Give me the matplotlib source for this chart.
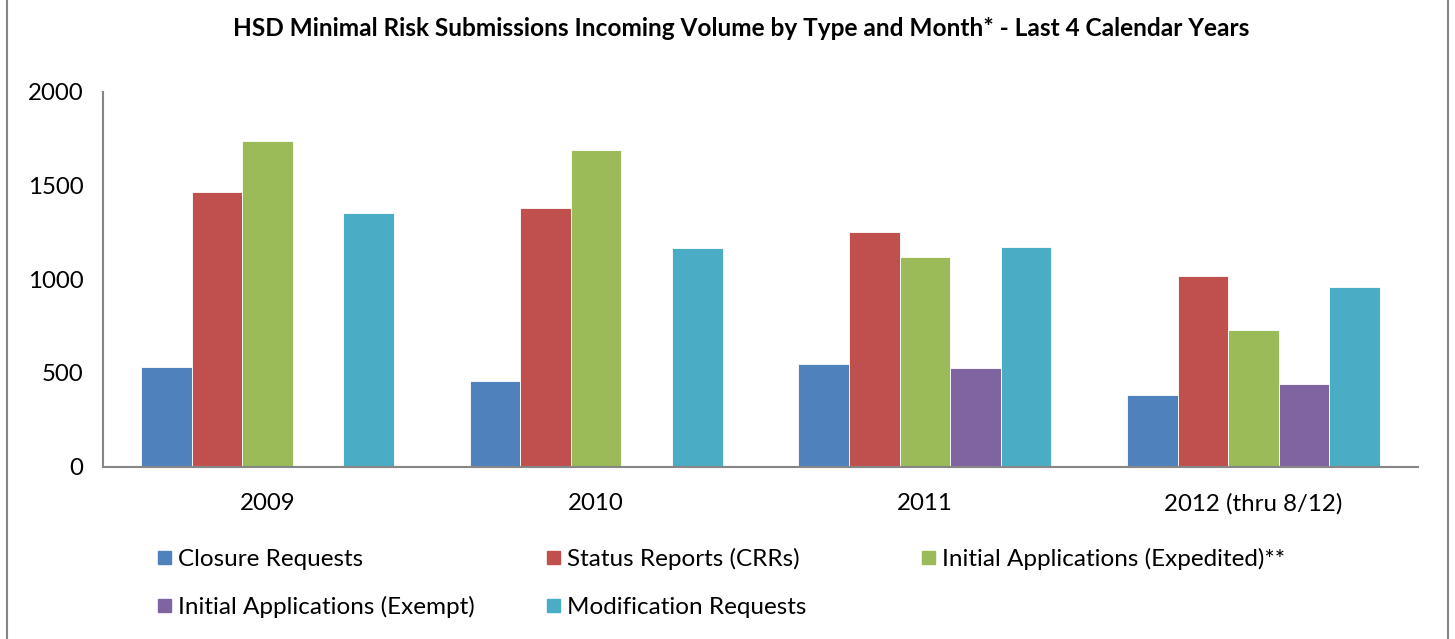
import matplotlib
matplotlib.use("Agg")
import matplotlib.pyplot as plt
import numpy as np
from matplotlib.patches import Rectangle

categories = ["2009", "2010", "2011", "2012 (thru 8/12)"]
series_names = ["Closure Requests", "Status Reports (CRRs)", "Initial Applications (Expedited)**",
                "Initial Applications (Exempt)", "Modification Requests"]
closure = [530, 455, 545, 380]
status = [1465, 1380, 1250, 1018]
expedited = [1738, 1690, 1117, 728]
exempt = [0, 0, 527, 438]
modification = [1356, 1166, 1173, 958]
yticks = [0, 500, 1000, 1500, 2000]
title = "HSD Minimal Risk Submissions Incoming Volume by Type and Month* - Last 4 Calendar Years"

colors = ["#4F81BD", "#C0504D", "#9BBB59", "#8064A2", "#4BACC6"]
FONT = ["Lato", "DejaVu Sans"]
plt.rcParams['font.family'] = FONT

W, H = 1455, 639
fig = plt.figure(figsize=(W / 100, H / 100), dpi=100)
ax = fig.add_axes([103 / W, 1 - 466.5 / H, (1418 - 103) / W, (466.5 - 92) / H])

data = [closure, status, expedited, exempt, modification]
x = np.arange(len(categories))
bw = 1 / (5 + 1.5)
for i, (vals, c) in enumerate(zip(data, colors)):
    ax.bar(x + (i - 2) * bw, vals, bw, color=c, edgecolor="white", linewidth=0.6, zorder=2)

ax.set_xlim(-0.5, len(categories) - 0.5)
ax.set_ylim(0, 2000)
ax.set_yticks(yticks)
ax.set_yticklabels([str(t) for t in yticks])
ax.set_xticks(x)
ax.set_xticklabels(categories)
ax.tick_params(axis="both", length=0, labelsize=17.3, colors="black")
ax.tick_params(axis="y", pad=14)
ax.tick_params(axis="x", pad=19)
for s in ["top", "right"]:
    ax.spines[s].set_visible(False)
for s in ["left", "bottom"]:
    ax.spines[s].set_color("#868686")
    ax.spines[s].set_linewidth(1.5)

fig.text(741 / W, 1 - 28 / H, title, ha="center", va="center", fontsize=17.6, fontweight="bold")

# legend
pos = [(158, 557), (547, 557), (922, 557), (158, 605), (547, 605)]
for (px, py), name, c in zip(pos, series_names, colors):
    s = 13
    fig.patches.append(Rectangle((px / W, 1 - (py + s / 2) / H), s / W, s / H,
                                 transform=fig.transFigure, color=c, figure=fig))
    fig.text((px + 20) / W, 1 - (py + 2) / H, name, ha="left", va="center", fontsize=17.5)

# outer border
fig.patches.append(Rectangle((7 / W, -0.01), (1448 - 7) / W, 1.02, transform=fig.transFigure,
                             fill=False, edgecolor="#868686", linewidth=1.5, figure=fig))

fig.savefig("out.png", dpi=100)
